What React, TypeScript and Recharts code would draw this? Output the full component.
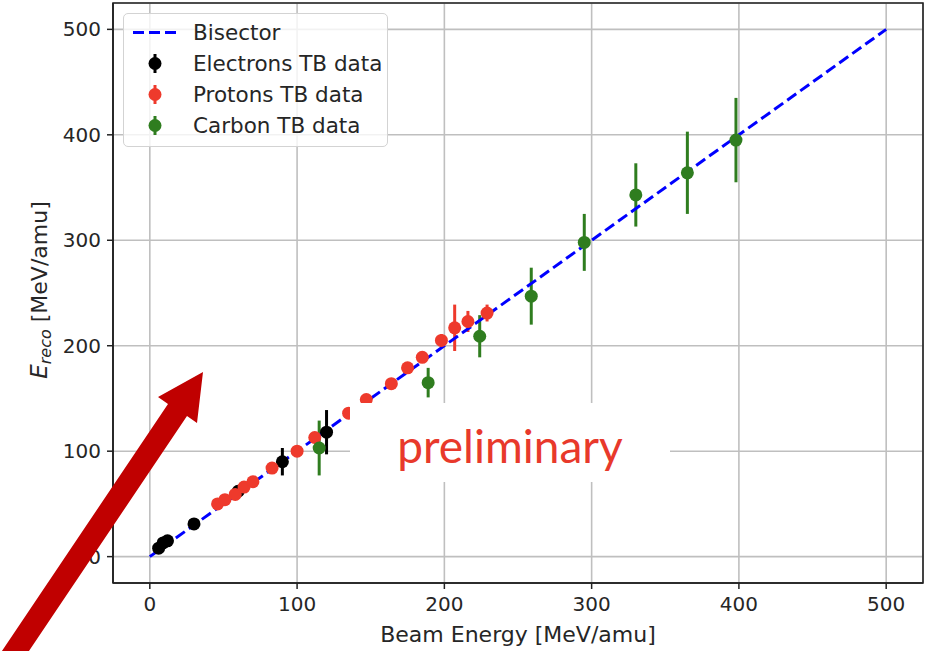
import {
  CartesianGrid,
  ComposedChart,
  ErrorBar,
  Legend,
  ReferenceArea,
  Scatter,
  XAxis,
  YAxis,
} from "recharts";

const axisTicks = [0, 100, 200, 300, 400, 500];

const bisectorE = [0, 500];

const electronBeam = [6, 9, 12, 30, 60, 90, 120];
const electronReco = [8, 13, 15, 31, 62, 90, 118];
const electronErr = [2, 2, 2, 2, 3, 13, 21];

const protonBeam = [46, 51, 58, 64, 70, 83, 100, 112, 135, 147, 164, 175, 185, 198, 207, 216, 229];
const protonReco = [50, 54, 59, 66, 71, 84, 100, 113, 136, 149, 164, 179, 189, 205, 217, 223, 231];
const protonErr = [2, 2, 2, 2, 2, 2, 3, 3, 3, 3, 3, 4, 4, 6, 22, 10, 8];

const carbonBeam = [115, 189, 224, 259, 295, 330, 365, 398];
const carbonReco = [103, 165, 209, 247, 298, 343, 364, 395];
const carbonErr = [26, 14, 20, 27, 27, 30, 39, 40];

const BLUE = "#0000ff";
const BLACK = "#000000";
const RED = "#ee3a2c";
const GREEN = "#2f7d1f";

const toPoints = (xs: number[], ys: number[], errs: number[]) =>
  xs.map((x, i) => ({ x, y: ys[i], err: errs[i] }));

const bisector = bisectorE.map((e) => ({ x: e, y: e }));
const electrons = toPoints(electronBeam, electronReco, electronErr);
const protons = toPoints(protonBeam, protonReco, protonErr);
const carbon = toPoints(carbonBeam, carbonReco, carbonErr);

const legendItems = [
  { name: "Bisector", color: BLUE, line: true },
  { name: "Electrons TB data", color: BLACK, line: false },
  { name: "Protons TB data", color: RED, line: false },
  { name: "Carbon TB data", color: GREEN, line: false },
];

const font = "'DejaVu Sans', sans-serif";

const dot = (color: string) => (props: any) =>
  <circle cx={props.cx} cy={props.cy} r={6.5} fill={color} />;

function LegendBox() {
  return (
    <div
      style={{
        width: 265,
        height: 134,
        border: "1px solid #d3d3d3",
        borderRadius: 5,
        background: "rgba(255,255,255,0.8)",
        fontFamily: font,
        fontSize: 21.5,
        color: "#262626",
        boxSizing: "border-box",
        paddingTop: 3,
        whiteSpace: "nowrap",
      }}
    >
      {legendItems.map((it) => (
        <div key={it.name} style={{ display: "flex", alignItems: "center", height: 31 }}>
          <svg width={69} height={31} style={{ flex: "none" }}>
            {it.line ? (
              <line x1={9} x2={52} y1={15.5} y2={15.5} stroke={it.color} strokeWidth={3} strokeDasharray="11 5" />
            ) : (
              <g>
                <line x1={31} x2={31} y1={6} y2={25} stroke={it.color} strokeWidth={3} />
                <circle cx={31} cy={15.5} r={6.5} fill={it.color} />
              </g>
            )}
          </svg>
          <span style={{ lineHeight: "31px" }}>{it.name}</span>
        </div>
      ))}
    </div>
  );
}

function YLabel(props: any) {
  const vb = props.viewBox || {};
  const cy = vb.y + vb.height / 2 - 3;
  const x = 47;
  return (
    <text
      x={x}
      y={cy}
      transform={`rotate(-90 ${x} ${cy})`}
      textAnchor="middle"
      fontFamily={font}
      fontSize={22}
      fill="#262626"
    >
      <tspan fontStyle="italic" fontSize={23}>E</tspan>
      <tspan fontStyle="italic" fontSize={16} dy={4}>reco</tspan>
      <tspan dy={-4}> [MeV/amu]</tspan>
    </text>
  );
}

function XLabel(props: any) {
  const vb = props.viewBox || {};
  return (
    <text x={vb.x + vb.width / 2} y={642} textAnchor="middle" fontFamily={font} fontSize={22} fill="#262626">
      Beam Energy [MeV/amu]
    </text>
  );
}

export default function App() {
  return (
    <div style={{ position: "absolute", left: 0, top: 0, width: 936, height: 651, background: "#fff" }}>
      <ComposedChart width={936} height={651} margin={{ top: 3, right: 13, bottom: 0, left: 40 }}>
        <CartesianGrid stroke="#bfbfbf" strokeWidth={1.6} />
        <XAxis
          type="number"
          dataKey="x"
          domain={[-25, 525]}
          ticks={axisTicks}
          allowDataOverflow
          height={68}
          tickSize={6}
          tickMargin={8}
          tick={{ fontSize: 20, fill: "#262626", fontFamily: font }}
          tickLine={{ stroke: "#222", strokeWidth: 1.5 }}
          axisLine={{ stroke: "#222", strokeWidth: 1.6 }}
          label={<XLabel />}
        />
        <YAxis
          type="number"
          dataKey="y"
          domain={[-25, 525]}
          ticks={axisTicks}
          allowDataOverflow
          width={73}
          tickSize={6}
          tickMargin={6}
          tick={{ fontSize: 20, fill: "#262626", fontFamily: font }}
          tickLine={{ stroke: "#222", strokeWidth: 1.5 }}
          axisLine={{ stroke: "#222", strokeWidth: 1.6 }}
          label={<YLabel />}
        />
        <ReferenceArea x1={-25} x2={525} y1={-25} y2={525} fill="none" stroke="#222" strokeWidth={1.6} />
        <Scatter
          data={bisector}
          line={{ stroke: BLUE, strokeWidth: 3, strokeDasharray: "11 5" }}
          lineType="joint"
          shape={() => <g />}
          isAnimationActive={false}
        />
        <Scatter data={electrons} shape={dot(BLACK)} isAnimationActive={false}>
          <ErrorBar dataKey="err" direction="y" width={0} stroke={BLACK} strokeWidth={3} />
        </Scatter>
        <Scatter data={protons} shape={dot(RED)} isAnimationActive={false}>
          <ErrorBar dataKey="err" direction="y" width={0} stroke={RED} strokeWidth={3} />
        </Scatter>
        <Scatter data={carbon} shape={dot(GREEN)} isAnimationActive={false}>
          <ErrorBar dataKey="err" direction="y" width={0} stroke={GREEN} strokeWidth={3} />
        </Scatter>
        <Legend
          layout="horizontal"
          verticalAlign="middle"
          align="center"
          wrapperStyle={{ left: 123, top: 13, width: 265 }}
          content={() => <LegendBox />}
        />
      </ComposedChart>
      <svg
        width={936}
        height={651}
        style={{ position: "absolute", left: 0, top: 0, pointerEvents: "none" }}
      >
        <rect x={350} y={403} width={320} height={79} fill="#fff" />
        <text x={510} y={463} textAnchor="middle" fontFamily="Lato, 'Open Sans', sans-serif" fontSize={46} fill="#e8392b">
          preliminary
        </text>
        <polygon
          points="-31,700 168,404 158,397 203,372 197,423 187,416 -4,700"
          fill="#c00000"
        />
      </svg>
    </div>
  );
}
